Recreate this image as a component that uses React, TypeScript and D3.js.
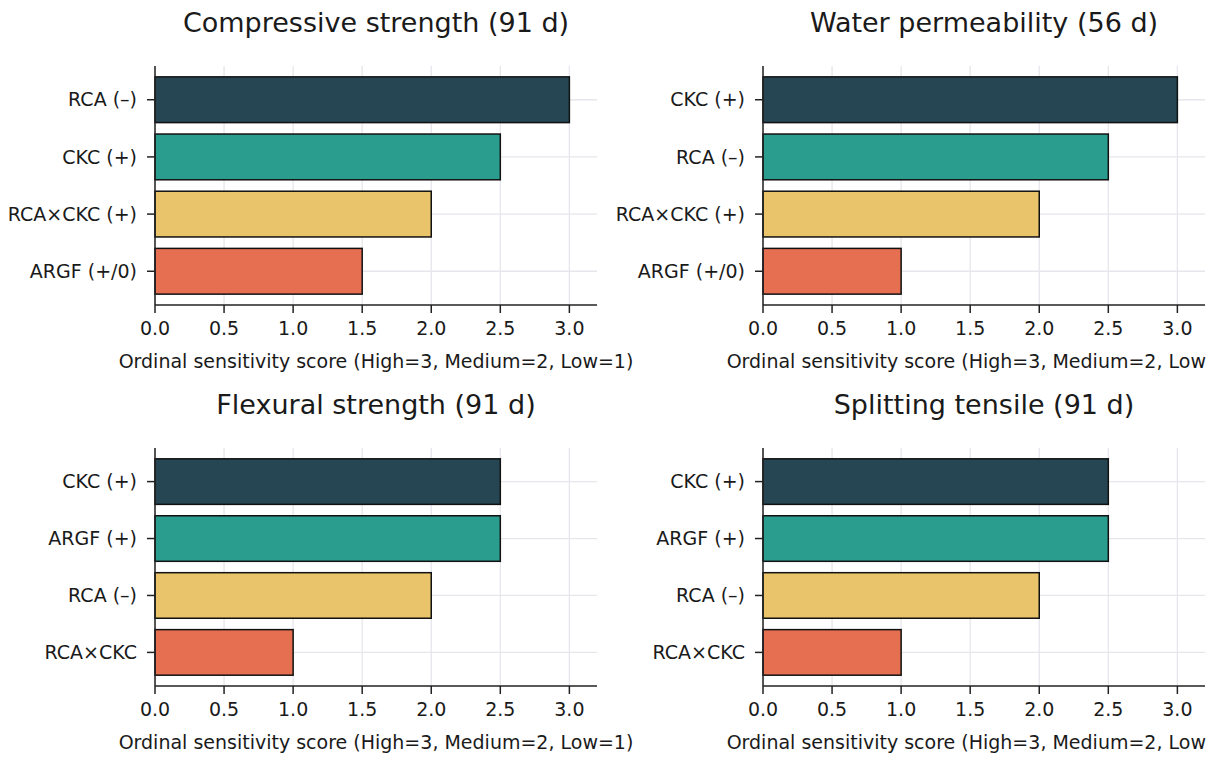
import React from "react";
import * as d3 from "d3";

const W = 1215;
const H = 758;
const CLIP_W = 1206;

const panelTitles = [
  "Compressive strength (91 d)",
  "Water permeability (56 d)",
  "Flexural strength (91 d)",
  "Splitting tensile (91 d)",
];

const compressiveCats = ["RCA (–)", "CKC (+)", "RCA×CKC (+)", "ARGF (+/0)"];
const compressiveVals = [3, 2.5, 2, 1.5];

const permeabilityCats = ["CKC (+)", "RCA (–)", "RCA×CKC (+)", "ARGF (+/0)"];
const permeabilityVals = [3, 2.5, 2, 1];

const flexuralCats = ["CKC (+)", "ARGF (+)", "RCA (–)", "RCA×CKC"];
const flexuralVals = [2.5, 2.5, 2, 1];

const splittingCats = ["CKC (+)", "ARGF (+)", "RCA (–)", "RCA×CKC"];
const splittingVals = [2.5, 2.5, 2, 1];

const xTicks = [0, 0.5, 1, 1.5, 2, 2.5, 3];
const xLabel = "Ordinal sensitivity score (High=3, Medium=2, Low=1)";
const barColors = ["#264653", "#2a9d8f", "#e9c46a", "#e76f51"];

const panelData = [
  { cats: compressiveCats, vals: compressiveVals },
  { cats: permeabilityCats, vals: permeabilityVals },
  { cats: flexuralCats, vals: flexuralVals },
  { cats: splittingCats, vals: splittingVals },
];

const boxes = [
  { x0: 155, x1: 597, y0: 66, y1: 305 },
  { x0: 763, x1: 1205, y0: 66, y1: 305 },
  { x0: 155, x1: 597, y0: 448, y1: 686 },
  { x0: 763, x1: 1205, y0: 448, y1: 686 },
];

const FONT = "'DejaVu Sans', sans-serif";
const TEXT = "#1a1a1a";
const GRID = "#e6e6ec";

function Panel({ idx }: { idx: number }) {
  const b = boxes[idx];
  const { cats, vals } = panelData[idx];
  const x = d3.scaleLinear().domain([0, 3.2]).range([b.x0, b.x1]);
  const n = cats.length;
  const pad = 0.19;
  const y = d3
    .scaleLinear()
    .domain([-0.4 - pad, n - 1 + 0.4 + pad])
    .range([b.y0, b.y1]);
  const bh = y(0.4) - y(-0.4);
  return (
    <g>
      {xTicks.map((t) => (
        <line key={"gx" + t} x1={x(t)} x2={x(t)} y1={b.y0} y2={b.y1} stroke={GRID} strokeWidth={1.3} />
      ))}
      {cats.map((c, i) => (
        <line key={"gy" + i} x1={b.x0} x2={b.x1} y1={y(i)} y2={y(i)} stroke={GRID} strokeWidth={1.3} />
      ))}
      {cats.map((c, i) => (
        <rect
          key={"b" + i}
          x={x(0)}
          y={y(i) - bh / 2}
          width={x(vals[i]) - x(0)}
          height={bh}
          fill={barColors[i]}
          stroke="#111"
          strokeWidth={1.5}
        />
      ))}
      <line x1={b.x0} x2={b.x0} y1={b.y0} y2={b.y1} stroke="#222" strokeWidth={1.5} />
      <line x1={b.x0} x2={b.x1} y1={b.y1} y2={b.y1} stroke="#222" strokeWidth={1.5} />
      {xTicks.map((t) => (
        <g key={"tx" + t}>
          <line x1={x(t)} x2={x(t)} y1={b.y1} y2={b.y1 + 8} stroke="#222" strokeWidth={1.5} />
          <text
            x={x(t)}
            y={b.y1 + 30}
            textAnchor="middle"
            fontFamily={FONT}
            fontSize={19}
            fill={TEXT}
          >
            {d3.format(".1f")(t)}
          </text>
        </g>
      ))}
      {cats.map((c, i) => (
        <g key={"ty" + i}>
          <line x1={b.x0 - 8} x2={b.x0} y1={y(i)} y2={y(i)} stroke="#222" strokeWidth={1.5} />
          <text
            x={b.x0 - 18}
            y={y(i)}
            dy="0.35em"
            textAnchor="end"
            fontFamily={FONT}
            fontSize={19}
            fill={TEXT}
          >
            {c}
          </text>
        </g>
      ))}
      <text
        x={(b.x0 + b.x1) / 2}
        y={b.y1 + 63}
        textAnchor="middle"
        fontFamily={FONT}
        fontSize={19}
        fill={TEXT}
      >
        {xLabel}
      </text>
      <text
        x={(b.x0 + b.x1) / 2}
        y={b.y0 - 34}
        textAnchor="middle"
        fontFamily={FONT}
        fontSize={27}
        fill={TEXT}
      >
        {panelTitles[idx]}
      </text>
    </g>
  );
}

export default function App() {
  return (
    <svg
      width={W}
      height={H}
      style={{ position: "absolute", left: 0, top: 0, background: "#fff" }}
    >
      <defs>
        <clipPath id="figclip">
          <rect x={0} y={0} width={CLIP_W} height={H} />
        </clipPath>
      </defs>
      <rect x={0} y={0} width={W} height={H} fill="#fff" />
      <g clipPath="url(#figclip)">
        {panelData.map((_, i) => (
          <Panel key={i} idx={i} />
        ))}
      </g>
    </svg>
  );
}
